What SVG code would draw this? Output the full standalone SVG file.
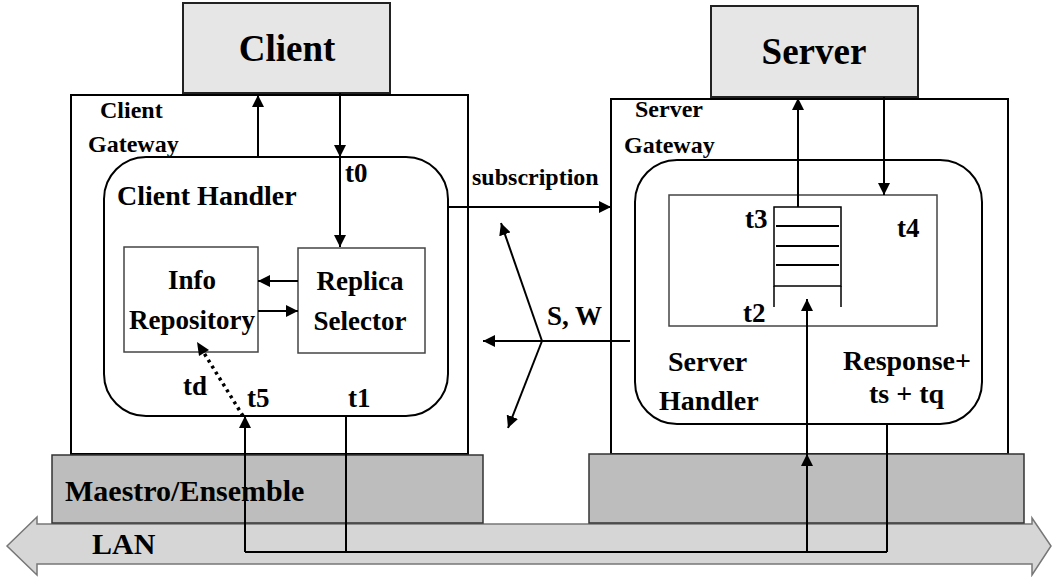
<svg xmlns="http://www.w3.org/2000/svg" width="1053" height="577" viewBox="0 0 1053 577">
<defs>
<style>
text{font-family:"Liberation Serif","Times New Roman",serif;font-weight:bold;fill:#000}
.big{font-size:37px}
.hd{font-size:28px}
.gw{font-size:24px}
.lb{font-size:27px}
.base{font-size:30px}
.box{fill:#fff;stroke:#000;stroke-width:2}
.inner{fill:#fff;stroke:#444;stroke-width:1.5}
.top{fill:#e6e6e6;stroke:#222;stroke-width:2}
.mae{fill:#bdbdbd;stroke:#333;stroke-width:1.5}
.ln{fill:none;stroke:#000;stroke-width:2}
.arr{fill:none;stroke:#000;stroke-width:2;marker-end:url(#ah)}
</style>
<marker id="ah" viewBox="0 0 10 10" refX="10" refY="5" markerWidth="6" markerHeight="6" markerUnits="strokeWidth" orient="auto">
<path d="M0,0 L10,5 L0,10 Z" fill="#000"/>
</marker>
</defs>

<g id="lan">
<polygon points="7,546 37,517 37,524 1032,524 1032,518 1051,546 1032,575 1032,564 37,564 37,575" fill="#d6d6d6" stroke="#777" stroke-width="1.5"/>
<text class="base" x="92" y="554">LAN</text>
</g>

<g id="client-gateway">
<rect class="box" x="71" y="95" width="397" height="359"/>
<text class="gw" x="100" y="118">Client</text>
<text class="gw" x="88" y="152">Gateway</text>
</g>

<g id="server-gateway">
<rect class="box" x="611" y="99" width="397" height="355"/>
<text class="gw" x="635" y="117">Server</text>
<text class="gw" x="624" y="153">Gateway</text>
</g>

<g id="client">
<rect class="top" x="183" y="3" width="207" height="90"/>
<text class="big" x="287" y="61" text-anchor="middle">Client</text>
</g>

<g id="server">
<rect class="top" x="711" y="6" width="207" height="91"/>
<text class="big" x="814" y="64" text-anchor="middle">Server</text>
</g>

<g id="maestro-client">
<rect class="mae" x="52" y="455" width="431" height="68"/>
<text class="base" x="65" y="501">Maestro/Ensemble</text>
</g>

<g id="maestro-server">
<rect class="mae" x="589" y="454" width="435" height="69"/>
</g>

<g id="client-handler">
<rect class="box" x="104" y="157" width="344" height="259" rx="42" ry="42"/>
<text class="hd" x="117" y="205">Client Handler</text>
</g>

<g id="info-repository">
<rect class="inner" x="124" y="247" width="134" height="105"/>
<text class="lb" x="192" y="289" text-anchor="middle">Info</text>
<text class="lb" x="192" y="329" text-anchor="middle">Repository</text>
</g>

<g id="replica-selector">
<rect class="inner" x="298" y="248" width="127" height="105"/>
<text class="lb" x="360" y="290" text-anchor="middle">Replica</text>
<text class="lb" x="360" y="330" text-anchor="middle">Selector</text>
</g>

<g id="server-handler">
<rect class="box" x="635" y="160" width="347" height="264" rx="42" ry="42"/>
<rect class="inner" x="669" y="195" width="268" height="131"/>
<text class="hd" x="668" y="371">Server</text>
<text class="hd" x="659" y="410">Handler</text>
<text class="hd" x="843" y="370">Response+</text>
<text class="hd" x="869" y="403">ts + tq</text>
</g>

<g id="queue">
<rect x="774" y="207" width="67" height="79" fill="#fff" stroke="#000" stroke-width="1.5"/>
<path d="M774,286 V307 M841,286 V307" stroke="#000" stroke-width="1.5" fill="none"/>
<path d="M776,226 H839 M776,246 H839 M776,265 H839" stroke="#000" stroke-width="2" fill="none"/>
</g>

<g id="connectors">
<path class="arr" d="M258,157 V95"/>
<path class="arr" d="M340,93 V157"/>
<path class="arr" d="M340,157 V247"/>
<path class="arr" d="M298,281 H258"/>
<path class="arr" d="M258,311 H298"/>
<path d="M243,416 L199,345" fill="none" stroke="#000" stroke-width="3.5" stroke-dasharray="3,4"/>
<path d="M197,342 L209,350 L199,356 Z" fill="#000"/>
<path class="arr" d="M245,552 V416"/>
<path class="ln" d="M346,416 V552"/>
<path class="ln" d="M245,552 H887"/>
<path class="arr" d="M807,552 V454"/>
<path class="arr" d="M807,454 V299"/>
<path class="ln" d="M887,424 V552"/>
<path class="arr" d="M798,207 V98"/>
<path class="arr" d="M884,97 V195"/>
<path class="arr" d="M448,207 H611"/>
<path class="arr" d="M630,341 H483"/>
<path class="arr" d="M542,341 L501,223"/>
<path class="arr" d="M542,341 L508,428"/>
</g>

<g id="labels">
<text class="gw" x="472" y="185">subscription</text>
<text class="lb" x="547" y="325">S, W</text>
<text class="lb" x="345" y="182">t0</text>
<text class="lb" x="183" y="395">td</text>
<text class="lb" x="247" y="407">t5</text>
<text class="lb" x="348" y="407">t1</text>
<text class="lb" x="745" y="228">t3</text>
<text class="lb" x="897" y="237">t4</text>
<text class="lb" x="743" y="322">t2</text>
</g>
</svg>
